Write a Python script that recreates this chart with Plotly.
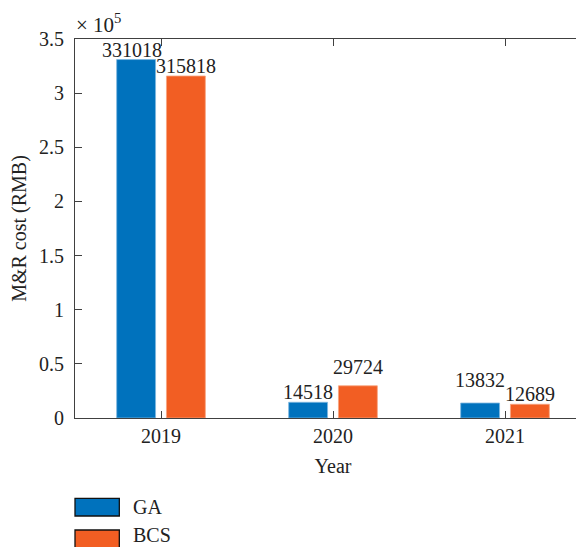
import plotly.graph_objects as go

years = ["2019", "2020", "2021"]
ga = [331018, 14518, 13832]
bcs = [315818, 29724, 12689]
series_names = ["GA", "BCS"]
ytick_vals = [0, 50000, 100000, 150000, 200000, 250000, 300000, 350000]
ytick_text = ["0", "0.5", "1", "1.5", "2", "2.5", "3", "3.5"]

colors = ["#0072BD", "#F25E23"]
edge = ["#7FB8E0", "#F7A47F"]
FONT = "Liberation Serif, Times New Roman, serif"
FS = 20
TXT = "#222222"

bargap = 0.421
bargroupgap = 0.219
slot = (1 - bargap) / 2

# label style shifts (pixels)
ga_shift = [(-4, 0), (0, 0), (0, 13)]
bcs_shift = [(0, 0), (0, 9), (0, 0)]

xs = list(range(len(years)))

fig = go.Figure()
for name, vals, c, e in zip(series_names, [ga, bcs], colors, edge):
    fig.add_trace(go.Bar(x=xs, y=vals, name=name, showlegend=False,
                         marker=dict(color=c, line=dict(color=e, width=0.8))))

annotations = []
for si, (vals, shifts) in enumerate(zip([ga, bcs], [ga_shift, bcs_shift])):
    off = (si - 0.5) * slot
    for i, v in enumerate(vals):
        annotations.append(dict(x=xs[i] + off, y=v, xref="x", yref="y",
                                text=str(v), showarrow=False, yanchor="bottom",
                                xanchor="center", xshift=shifts[i][0],
                                yshift=shifts[i][1] - 3,
                                font=dict(family=FONT, size=FS, color=TXT)))
annotations.append(dict(x=0, y=1, xref="paper", yref="paper", xanchor="left",
                        yanchor="bottom", text="× 10<sup>5</sup>", showarrow=False,
                        xshift=0, yshift=1, borderpad=0,
                        font=dict(family=FONT, size=21, color=TXT)))

# legend (drawn as key boxes + labels below the axes)
legend_rows = [(-0.2119, -0.2586), (-0.2955, -0.343)]
label_shift = [0, 4]
shapes = []
for (top, bot), c, name, ls in zip(legend_rows, colors, series_names, label_shift):
    shapes.append(dict(type="rect", xref="paper", yref="paper",
                       x0=0, x1=0.0859, y0=bot, y1=top,
                       fillcolor=c, line=dict(color="#111111", width=1.3)))
    annotations.append(dict(x=0.108, y=(top + bot) / 2, xref="paper", yref="paper",
                            xanchor="left", yanchor="middle", text=name,
                            showarrow=False, yshift=ls,
                            font=dict(family=FONT, size=FS, color=TXT)))

fig.update_layout(
    width=584, height=547,
    margin=dict(l=67, r=1, t=31, b=137),
    paper_bgcolor="white", plot_bgcolor="white",
    barmode="group", bargap=bargap, bargroupgap=bargroupgap,
    font=dict(family=FONT, size=FS, color=TXT),
    annotations=annotations,
    shapes=shapes,
    showlegend=False,
    xaxis=dict(range=[-0.5, 2.5], tickvals=xs, ticktext=years,
               showline=True, linecolor="#404040", linewidth=1, mirror="ticks",
               ticks="inside", ticklen=7, tickcolor="#404040",
               showgrid=False, zeroline=False,
               title=dict(text="Year", standoff=12, font=dict(family=FONT, size=FS))),
    yaxis=dict(range=[0, 350000], tickvals=ytick_vals, ticktext=ytick_text,
               showline=True, linecolor="#404040", linewidth=1, mirror="ticks",
               ticks="inside", ticklen=7, tickcolor="#404040",
               showgrid=False, zeroline=False, ticklabelstandoff=6,
               title=dict(text="M&R cost (RMB)", standoff=14, font=dict(family=FONT, size=FS))),
)

fig.write_html("out.html")
